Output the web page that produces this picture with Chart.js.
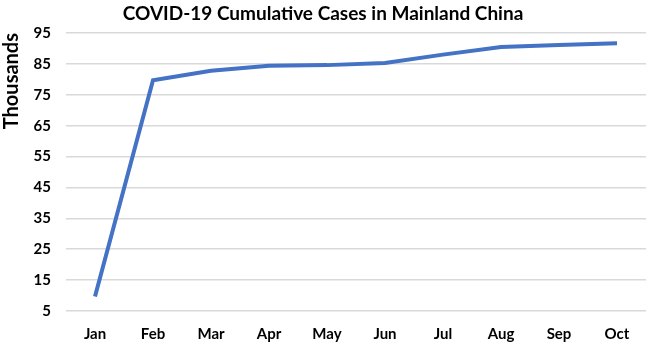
<!DOCTYPE html>
<html>
<head>
<meta charset="utf-8">
<script src="https://cdn.jsdelivr.net/npm/chart.js@4/dist/chart.umd.min.js"></script>
<style>
  html, body { margin: 0; padding: 0; background: #fff; }
  #wrap { width: 646px; height: 344px; }
</style>
</head>
<body>
<div id="wrap"><canvas id="casesChart" width="646" height="344"></canvas></div>
<script>
// data (thousands of cases)
const months = ["Jan", "Feb", "Mar", "Apr", "May", "Jun", "Jul", "Aug", "Sep", "Oct"];
const cumulativeCases = [9.7, 79.7, 82.8, 84.4, 84.6, 85.3, 88.0, 90.5, 91.1, 91.7];
const yMin = 5;
const yMax = 95;
const yStep = 10;

const ctx = document.getElementById("casesChart").getContext("2d");
new Chart(ctx, {
  type: "line",
  data: {
    labels: months,
    datasets: [
      {
        label: "Cumulative cases",
        data: cumulativeCases,
        borderColor: "#4472C4",
        borderWidth: 4,
        pointRadius: 0,
        tension: 0,
        fill: false,
      },
    ],
  },
  options: {
    responsive: false,
    animation: false,
    layout: { padding: 0 },
    plugins: {
      legend: { display: false },
      tooltip: { enabled: false },
      title: {
        display: true,
        text: "COVID-19 Cumulative Cases in Mainland China",
        color: "#000",
        font: { family: "Lato", size: 19, weight: "bold", lineHeight: 1.2 },
        padding: { top: 2.6, bottom: 7.6 },
      },
    },
    scales: {
      x: {
        offset: true,
        grid: { display: false, drawTicks: false },
        border: { display: false },
        ticks: {
          color: "#000",
          padding: 14,
          font: { family: "Lato", size: 15, weight: "bold" },
        },
        afterFit: (scale) => { scale.height = 33; },
      },
      y: {
        min: yMin,
        max: yMax,
        grid: { color: "#d9d9d9", lineWidth: 1.5, drawTicks: false },
        border: { display: false },
        ticks: {
          stepSize: yStep,
          color: "#000",
          padding: 15,
          font: { family: "Lato", size: 15, weight: "bold" },
        },
        title: {
          display: true,
          text: "Thousands",
          align: "end",
          color: "#000",
          padding: { top: 0, bottom: 0 },
          font: { family: "Lato", size: 20, weight: "bold" },
        },
        afterFit: (scale) => { scale.width = 66; },
      },
    },
  },
});
</script>
</body>
</html>
